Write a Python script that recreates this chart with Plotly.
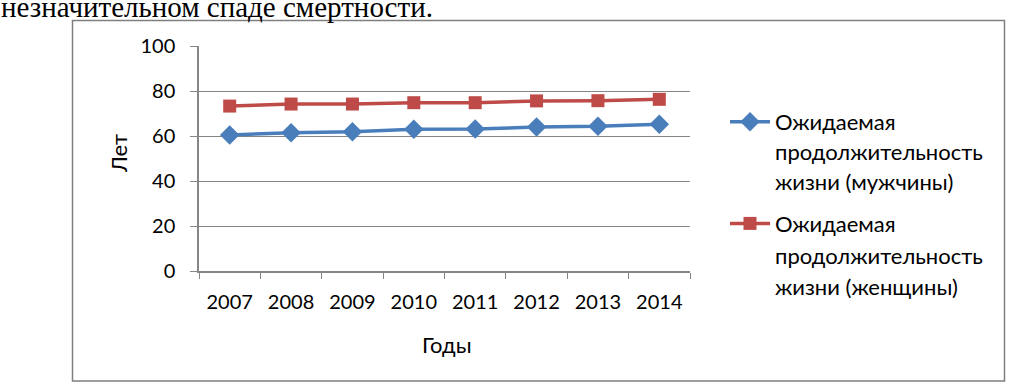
import plotly.graph_objects as go

years = ["2007", "2008", "2009", "2010", "2011", "2012", "2013", "2014"]
men = [60.4, 61.5, 61.9, 63.0, 63.1, 64.0, 64.3, 65.2]
women = [73.3, 74.2, 74.2, 74.8, 74.8, 75.6, 75.7, 76.3]
men_lines = ["Ожидаемая", "продолжительность", "жизни (мужчины)"]
women_lines = ["Ожидаемая", "продолжительность", "жизни (женщины)"]
y_title = "Лет"
x_title = "Годы"
top_text = "незначительном спаде смертности."

OFF = 0  # page body margin removed via post_script
W, H = 1010, 384
FONT = "Lato"
FS = 20
FS_TXT = 22
GRAY = "#868686"

def px_x(x):
    return (x - OFF) / W

def px_y(y):
    return 1 - (y - OFF) / H

fig = go.Figure()
fig.add_trace(go.Scatter(
    x=years, y=men, name=men_lines[0], legendgroup="m", mode="lines+markers",
    line=dict(color="#4a7ebb", width=3.5),
    marker=dict(symbol="diamond", size=15, color="#4a7ebb"),
))
fig.add_trace(go.Scatter(
    x=years, y=women, name=women_lines[0], legendgroup="w", mode="lines+markers",
    line=dict(color="#be4b48", width=3.5),
    marker=dict(symbol="square", size=13, color="#be4b48"),
))

fig.update_layout(
    width=W, height=H, autosize=False,
    margin=dict(l=0, r=0, t=0, b=0),
    paper_bgcolor="white", plot_bgcolor="white",
    font=dict(family=FONT, size=FS, color="#000000"),
    showlegend=True,
    legend=dict(
        x=px_x(725), y=px_y(101), xanchor="left", yanchor="top",
        font=dict(family=FONT, size=FS_TXT),
        itemwidth=40, tracegroupgap=70, bgcolor="rgba(0,0,0,0)",
    ),
    xaxis=dict(
        domain=[px_x(199), px_x(690)], automargin=False,
        type="category", range=[-0.5, 7.5],
        showline=True, linecolor=GRAY, linewidth=1.5,
        ticks="outside", ticklen=6, tickcolor=GRAY, tickson="boundaries",
        showgrid=False, zeroline=False,
        tickfont=dict(family=FONT, size=FS),
        ticklabelstandoff=12,
    ),
    yaxis=dict(
        domain=[px_y(271), px_y(46)], automargin=False,
        range=[0, 100], dtick=20,
        showline=True, linecolor=GRAY, linewidth=1.5,
        ticks="outside", ticklen=7, tickcolor=GRAY,
        showgrid=True, gridcolor=GRAY, gridwidth=1.2,
        zeroline=False,
        tickfont=dict(family=FONT, size=FS),
        ticklabelstandoff=11,
    ),
)

fig.add_shape(
    type="rect", xref="paper", yref="paper",
    x0=px_x(72.5), x1=px_x(1004.5), y0=px_y(381), y1=px_y(20.5),
    line=dict(color="#7f7f7f", width=1.5), fillcolor="rgba(0,0,0,0)", layer="below",
)

# axis titles
fig.add_annotation(text=x_title, xref="paper", yref="paper",
                   x=px_x(447), y=px_y(344), xanchor="center", yanchor="middle",
                   showarrow=False, font=dict(family=FONT, size=FS_TXT))
fig.add_annotation(text=y_title, xref="paper", yref="paper",
                   x=px_x(118), y=px_y(154), xanchor="center", yanchor="middle",
                   textangle=-90, showarrow=False, font=dict(family=FONT, size=FS_TXT))

# continuation lines of the legend labels
for lines, y0 in ((men_lines, 121), (women_lines, 225)):
    for i, t in enumerate(lines[1:], start=1):
        fig.add_annotation(text=t, xref="paper", yref="paper",
                           x=px_x(773), y=px_y(y0 + 30.5 * i), xanchor="left", yanchor="middle",
                           showarrow=False, font=dict(family=FONT, size=FS_TXT))

fig.add_annotation(
    text=top_text, xref="paper", yref="paper",
    x=px_x(-1), y=px_y(25.5), xanchor="left", yanchor="bottom",
    showarrow=False, font=dict(family="Liberation Serif", size=29, color="#000"),
)

fig.write_html(
    "out.html",
    config={"displayModeBar": False},
    post_script="document.body.style.margin='0px';document.body.style.overflow='hidden';",
)
